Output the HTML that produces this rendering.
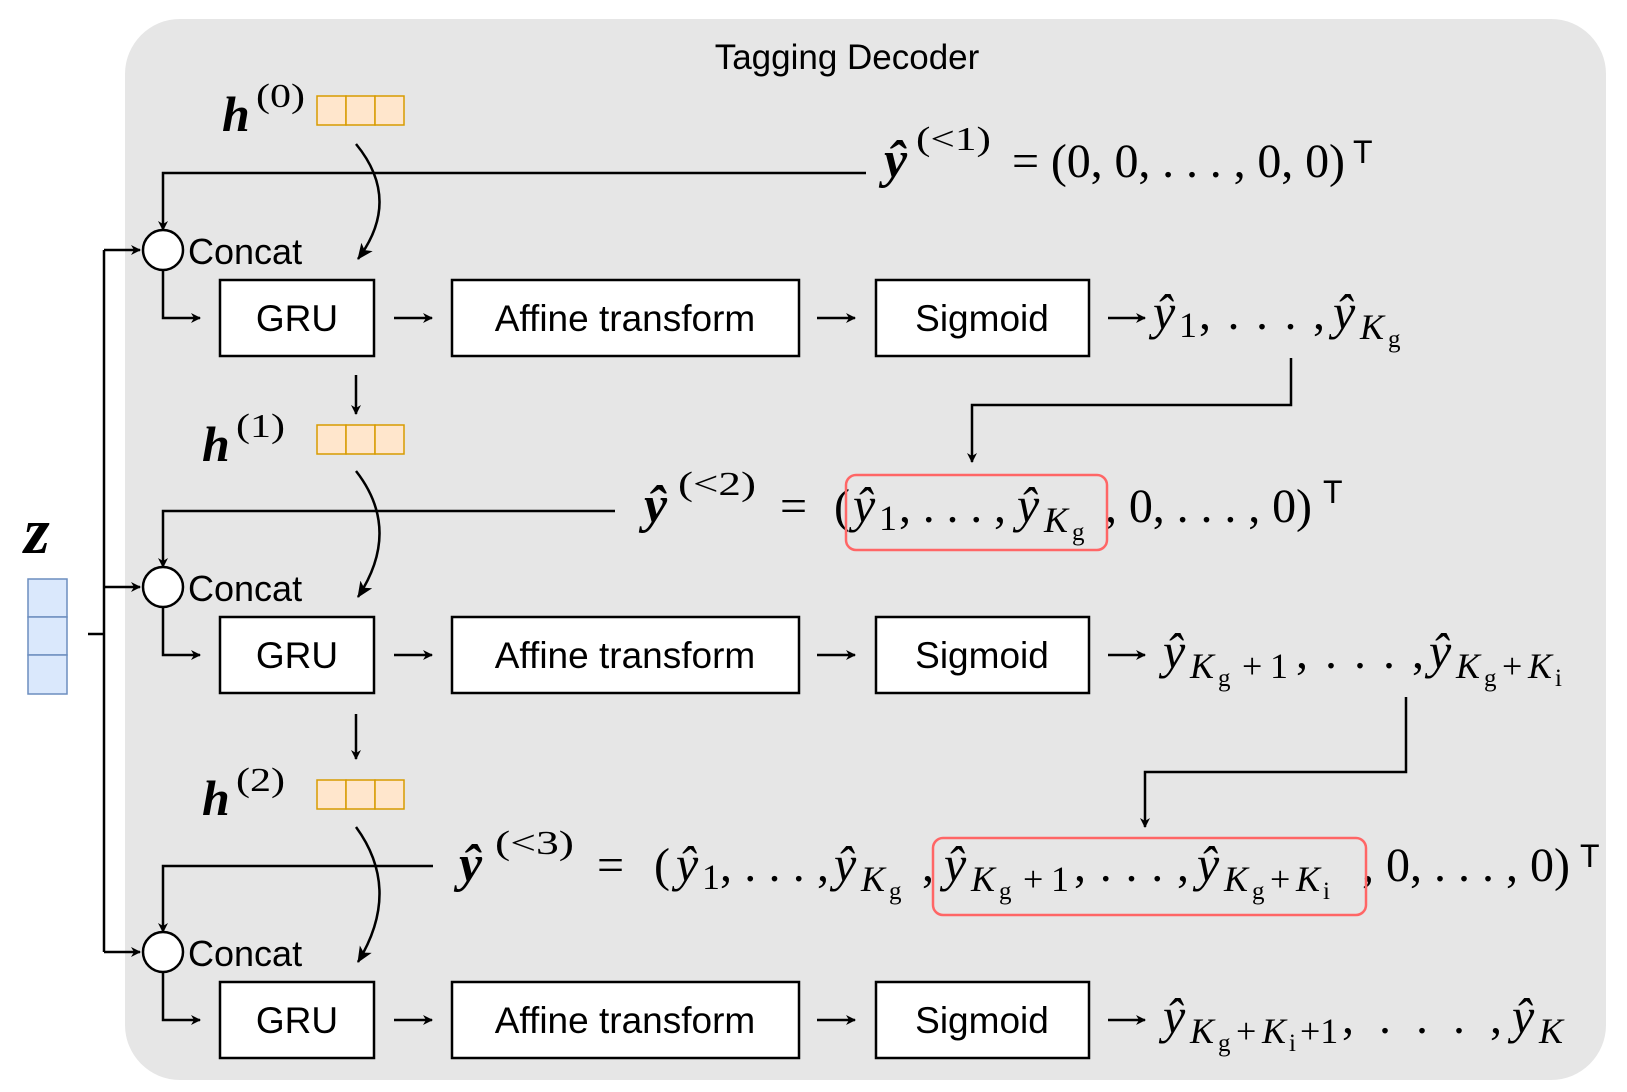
<!DOCTYPE html>
<html><head><meta charset="utf-8"><style>
html,body{margin:0;padding:0;background:#fff;}
svg{display:block}
.s{font-family:"Liberation Sans",sans-serif;}
.m{font-family:"Liberation Serif",serif;font-style:italic;}
.r{font-family:"Liberation Serif",serif;}
.y{font-family:"Liberation Serif",serif;font-style:italic;font-size:50px;}
.yb{font-family:"Liberation Serif",serif;font-style:italic;font-weight:bold;font-size:52px;}
.k{font-family:"Liberation Serif",serif;font-style:italic;font-size:36px;}
.n{font-family:"Liberation Serif",serif;font-size:36px;}
.g{font-family:"Liberation Serif",serif;font-size:25px;}
.e{font-family:"Liberation Serif",serif;font-size:48px;}
.sp{font-family:"Liberation Serif",serif;font-size:34px;}
</style></head><body>
<svg width="1627" height="1092" viewBox="0 0 1627 1092" xmlns="http://www.w3.org/2000/svg">
<defs><marker id="a" markerWidth="10" markerHeight="10" refX="9" refY="5" orient="auto" markerUnits="userSpaceOnUse"><path d="M0,0 L10,5 L0,10 L3,5 z" fill="#000"/></marker>
<marker id="b" markerWidth="16" markerHeight="14" refX="15" refY="7" orient="auto" markerUnits="userSpaceOnUse"><path d="M0,0 L16,7 L0,14 L4,7 z" fill="#000"/></marker></defs>
<rect x="125" y="19" width="1481" height="1061" rx="55" fill="#e6e6e6"/>
<text x="847" y="69" class="s" font-size="35" text-anchor="middle">Tagging Decoder</text>

<text x="24" y="553" class="m" font-weight="bold" font-size="66">z</text>
<g fill="#dae8fc" stroke="#6c8ebf" stroke-width="1.5"><rect x="28" y="579" width="39" height="38"/><rect x="28" y="617" width="39" height="38"/><rect x="28" y="655" width="39" height="39"/></g>
<g fill="none" stroke="#000" stroke-width="2.5">
<path d="M88,634 H104"/>
<path d="M104,952 V250" />
<path d="M104,250 H140" marker-end="url(#a)"/>
<path d="M104,587 H140" marker-end="url(#a)"/>
<path d="M104,952 H140" marker-end="url(#a)"/>
</g>

<g fill="#ffe6cc" stroke="#d79b00" stroke-width="1.5">
<rect x="317" y="96" width="29" height="29"/><rect x="346" y="96" width="29" height="29"/><rect x="375" y="96" width="29" height="29"/>
<rect x="317" y="425" width="29" height="29"/><rect x="346" y="425" width="29" height="29"/><rect x="375" y="425" width="29" height="29"/>
<rect x="317" y="780" width="29" height="29"/><rect x="346" y="780" width="29" height="29"/><rect x="375" y="780" width="29" height="29"/>
</g>
<text x="222" y="131" class="m" font-weight="bold" font-size="50">h</text><text x="256" y="107" class="sp" textLength="49" lengthAdjust="spacingAndGlyphs">(0)</text>
<text x="202" y="461" class="m" font-weight="bold" font-size="50">h</text><text x="236" y="437" class="sp" textLength="49" lengthAdjust="spacingAndGlyphs">(1)</text>
<text x="202" y="815" class="m" font-weight="bold" font-size="50">h</text><text x="236" y="791" class="sp" textLength="49" lengthAdjust="spacingAndGlyphs">(2)</text>

<g fill="none" stroke="#000" stroke-width="2.5">
<path d="M356,144 Q402,200 358,259" marker-end="url(#b)"/>
<path d="M356,471 Q402,530 358,597" marker-end="url(#b)"/>
<path d="M356,827 Q402,890 358,962" marker-end="url(#b)"/>
<path d="M866,173 H163 V230" marker-end="url(#a)"/>
<path d="M615,511 H163 V567" marker-end="url(#a)"/>
<path d="M433,866 H163 V932" marker-end="url(#a)"/>
<path d="M163,270 V318 H200" marker-end="url(#a)"/>
<path d="M163,607 V655 H200" marker-end="url(#a)"/>
<path d="M163,972 V1020 H200" marker-end="url(#a)"/>
<path d="M356,375 V414" marker-end="url(#a)"/>
<path d="M356,714 V759" marker-end="url(#a)"/>
<path d="M1291,358 V405 H972 V462" marker-end="url(#a)"/>
<path d="M1406,697 V772 H1145 V827" marker-end="url(#a)"/>
<path d="M394,318 H432" marker-end="url(#a)"/><path d="M817,318 H855" marker-end="url(#a)"/><path d="M1108,318 H1145" marker-end="url(#a)"/>
<path d="M394,655 H432" marker-end="url(#a)"/><path d="M817,655 H855" marker-end="url(#a)"/><path d="M1108,655 H1145" marker-end="url(#a)"/>
<path d="M394,1020 H432" marker-end="url(#a)"/><path d="M817,1020 H855" marker-end="url(#a)"/><path d="M1108,1020 H1145" marker-end="url(#a)"/>
</g>
<g fill="#fff" stroke="#000" stroke-width="2.5">
<circle cx="163" cy="250" r="20"/><circle cx="163" cy="587" r="20"/><circle cx="163" cy="952" r="20"/>
<rect x="220" y="280" width="154" height="76"/><rect x="452" y="280" width="347" height="76"/><rect x="876" y="280" width="213" height="76"/>
<rect x="220" y="617" width="154" height="76"/><rect x="452" y="617" width="347" height="76"/><rect x="876" y="617" width="213" height="76"/>
<rect x="220" y="982" width="154" height="76"/><rect x="452" y="982" width="347" height="76"/><rect x="876" y="982" width="213" height="76"/>
</g>
<g class="s" font-size="36">
<text x="188" y="264">Concat</text><text x="188" y="601">Concat</text><text x="188" y="966">Concat</text>
</g>
<g class="s" font-size="37" text-anchor="middle">
<text x="297" y="331">GRU</text><text x="625" y="331">Affine transform</text><text x="982" y="331">Sigmoid</text>
<text x="297" y="668">GRU</text><text x="625" y="668">Affine transform</text><text x="982" y="668">Sigmoid</text>
<text x="297" y="1033">GRU</text><text x="625" y="1033">Affine transform</text><text x="982" y="1033">Sigmoid</text>
</g>

<!-- Row1 output -->
<text x="1153" y="329" class="y">ŷ</text><text x="1179" y="337" class="n">1</text>
<text x="1199" y="329" class="e" textLength="126" lengthAdjust="spacing">, . . . ,</text>
<text x="1333" y="329" class="y">ŷ</text><text x="1360" y="339" class="k">K</text><text x="1388" y="347" class="g">g</text>

<!-- Row2 output -->
<text x="1163" y="668" class="y">ŷ</text><text x="1190" y="678" class="k">K</text><text x="1218" y="686" class="g">g</text><text x="1242" y="678" class="n">+</text><text x="1270" y="678" class="n">1</text>
<text x="1296" y="668" class="e" textLength="128" lengthAdjust="spacing">, . . . ,</text>
<text x="1429" y="668" class="y">ŷ</text><text x="1456" y="678" class="k">K</text><text x="1484" y="686" class="g">g</text><text x="1502" y="678" class="n">+</text><text x="1528" y="678" class="k">K</text><text x="1555" y="686" class="g">i</text>

<!-- Row3 output -->
<text x="1163" y="1033" class="y">ŷ</text><text x="1190" y="1043" class="k">K</text><text x="1218" y="1051" class="g">g</text><text x="1236" y="1043" class="n">+</text><text x="1262" y="1043" class="k">K</text><text x="1289" y="1051" class="g">i</text><text x="1300" y="1043" class="n">+1</text>
<text x="1342" y="1033" class="e" textLength="160" lengthAdjust="spacing">, . . . ,</text>
<text x="1512" y="1033" class="y">ŷ</text><text x="1539" y="1043" class="k">K</text>

<!-- Eq1 -->
<text x="884" y="177" class="yb">ŷ</text><text x="916" y="150" class="sp" textLength="75" lengthAdjust="spacingAndGlyphs">(&lt;1)</text>
<text x="1012" y="177" class="e" textLength="333" lengthAdjust="spacing">= (0, 0, . . . , 0, 0)</text>

<!-- Eq2 -->
<text x="644" y="522" class="yb">ŷ</text><text x="678" y="495" class="sp" textLength="78" lengthAdjust="spacingAndGlyphs">(&lt;2)</text>
<text x="780" y="522" class="e">=</text><text x="834" y="522" class="e">(</text>
<text x="853" y="522" class="y">ŷ</text><text x="879" y="530" class="n">1</text>
<text x="899" y="522" class="e" textLength="107" lengthAdjust="spacing">, . . . ,</text>
<text x="1017" y="522" class="y">ŷ</text><text x="1044" y="532" class="k">K</text><text x="1072" y="540" class="g">g</text>
<text x="1105" y="522" class="e" textLength="207" lengthAdjust="spacing">, 0, . . . , 0)</text>

<!-- Eq3 -->
<text x="459" y="881" class="yb">ŷ</text><text x="495" y="854" class="sp" textLength="79" lengthAdjust="spacingAndGlyphs">(&lt;3)</text>
<text x="597" y="881" class="e">=</text><text x="654" y="881" class="e">(</text>
<text x="676" y="881" class="y">ŷ</text><text x="702" y="889" class="n">1</text>
<text x="720" y="881" class="e" textLength="109" lengthAdjust="spacing">, . . . ,</text>
<text x="834" y="881" class="y">ŷ</text><text x="861" y="891" class="k">K</text><text x="889" y="899" class="g">g</text>
<text x="922" y="881" class="e">,</text>
<text x="944" y="881" class="y">ŷ</text><text x="971" y="891" class="k">K</text><text x="999" y="899" class="g">g</text><text x="1023" y="891" class="n">+</text><text x="1051" y="891" class="n">1</text>
<text x="1074" y="881" class="e" textLength="115" lengthAdjust="spacing">, . . . ,</text>
<text x="1197" y="881" class="y">ŷ</text><text x="1224" y="891" class="k">K</text><text x="1252" y="899" class="g">g</text><text x="1270" y="891" class="n">+</text><text x="1296" y="891" class="k">K</text><text x="1323" y="899" class="g">i</text>
<text x="1362" y="881" class="e" textLength="208" lengthAdjust="spacing">, 0, . . . , 0)</text>

<g class="s" font-size="32"><text x="1353" y="163">T</text><text x="1323" y="503">T</text><text x="1580" y="867">T</text></g>
<g fill="none" stroke="#ff6666" stroke-width="2.5">
<rect x="846" y="475" width="261" height="75" rx="10"/>
<rect x="933" y="838" width="433" height="77" rx="10"/>
</g>
</svg>
</body></html>
